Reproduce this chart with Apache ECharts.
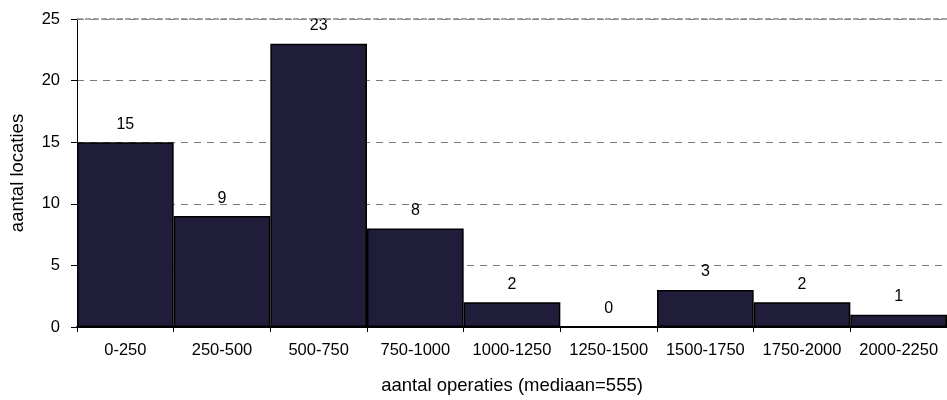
<!DOCTYPE html>
<html>
<head>
<meta charset="utf-8">
<script src="https://cdn.jsdelivr.net/npm/echarts@6/dist/echarts.min.js"></script>
<style>
  html, body { margin: 0; padding: 0; background: #fff; }
  #chart { width: 947px; height: 400px; }
</style>
</head>
<body>
<div id="chart"></div>
<script>
// Histogram of number of operations per location
const categories = ['0-250', '250-500', '500-750', '750-1000', '1000-1250', '1250-1500', '1500-1750', '1750-2000', '2000-2250'];
const counts = [15, 9, 23, 8, 2, 0, 3, 2, 1];
const yTicks = [0, 5, 10, 15, 20, 25];

const font = 'Liberation Sans, Arial, sans-serif';
const yMax = yTicks[yTicks.length - 1];
const chart = echarts.init(document.getElementById('chart'), null, { renderer: 'canvas' });

chart.setOption({
  animation: false,
  grid: { left: 77, top: 19, width: 876.5, height: 311, containLabel: false },
  xAxis: {
    type: 'category',
    data: categories,
    name: 'aantal operaties (mediaan=555)',
    nameLocation: 'middle',
    nameGap: 49,
    nameTextStyle: { fontFamily: font, fontSize: 18.5, color: '#000' },
    axisLine: { lineStyle: { color: '#000', width: 2 } },
    axisTick: { show: true, alignWithLabel: false, length: 5, lineStyle: { color: '#000' } },
    axisLabel: { fontFamily: font, fontSize: 16.5, color: '#000', margin: 15, interval: 0 },
    splitLine: { show: false }
  },
  yAxis: {
    type: 'value',
    min: yTicks[0],
    max: yMax,
    interval: 5,
    name: 'aantal locaties',
    nameLocation: 'middle',
    nameGap: 50,
    nameRotate: 90,
    nameTextStyle: { fontFamily: font, fontSize: 18.5, color: '#000' },
    axisLine: { show: true, lineStyle: { color: '#000', width: 1 } },
    axisTick: { show: true, length: 6, lineStyle: { color: '#000' } },
    axisLabel: { fontFamily: font, fontSize: 16.5, color: '#000', margin: 17 },
    splitLine: { show: true, lineStyle: { color: '#7a7a7a', type: [7, 6], width: 1 } }
  },
  series: [{
    type: 'bar',
    data: counts,
    barCategoryGap: 0,
    itemStyle: { color: '#1f1d3a', borderColor: '#000', borderWidth: 1.5 },
    label: {
      show: true,
      position: 'top',
      distance: 10,
      fontFamily: font,
      fontSize: 16,
      color: '#000'
    },
    // top border of the plot area, drawn with a finer dash
    markLine: {
      silent: true,
      symbol: 'none',
      label: { show: false },
      lineStyle: { color: '#8a8a8a', type: [6, 2], width: 1.5 },
      data: [{ yAxis: yMax }]
    }
  }]
});
</script>
</body>
</html>
